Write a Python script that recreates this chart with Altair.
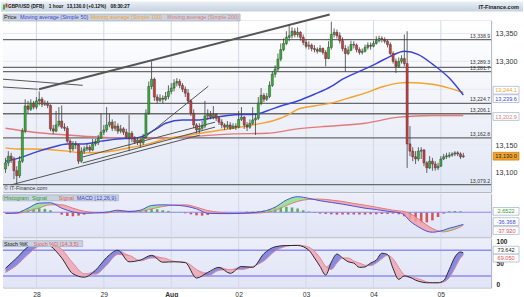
import altair as alt
import pandas as pd

FONT = "Liberation Sans"

# ---------------- price candles (1 hour), index 0 = first visible hour ----------------
first_open = 13107
close = [13118,13130,13125,13104,13095,13121,13175,13220,13214,13225,
         13218,13229,13232,13223,13225,13221,13179,13175,13186,13193,
         13182,13180,13157,13143,13152,13150,13121,13139,13143,13146,
         13141,13152,13154,13162,13173,13177,13186,13191,13180,13184,
         13175,13179,13173,13164,13171,13161,13155,13159,13154,13164,
         13207,13255,13268,13236,13230,13234,13232,13237,13246,13252,
         13261,13264,13257,13250,13243,13229,13207,13186,13177,13180,
         13184,13202,13205,13200,13205,13198,13191,13186,13182,13186,
         13180,13184,13182,13196,13200,13186,13182,13189,13195,13198,
         13225,13239,13232,13237,13257,13277,13286,13304,13321,13332,
         13343,13346,13354,13348,13352,13343,13334,13327,13329,13323,
         13321,13318,13323,13316,13305,13325,13348,13352,13346,13337,
         13323,13314,13320,13330,13329,13321,13316,13318,13325,13329,
         13327,13332,13337,13341,13339,13336,13330,13314,13300,13291,
         13300,13305,13296,13152,13139,13129,13125,13139,13141,13118,
         13109,13121,13116,13109,13112,13125,13129,13130,13132,13134,
         13136,13134,13129,13130]
high = [13127,13139,13136,13129,13112,13130,13180,13232,13229,13232,
        13229,13236,13246,13236,13230,13229,13223,13186,13211,13218,
        13221,13189,13184,13161,13157,13157,13152,13146,13148,13152,
        13150,13161,13161,13168,13207,13186,13218,13207,13196,13193,
        13189,13186,13182,13179,13204,13175,13166,13164,13162,13170,
        13214,13264,13300,13271,13241,13241,13239,13245,13257,13261,
        13268,13270,13268,13261,13255,13250,13232,13214,13189,13189,
        13193,13229,13214,13211,13220,13207,13202,13196,13189,13193,
        13191,13189,13189,13211,13218,13202,13191,13196,13218,13207,
        13236,13252,13243,13243,13264,13282,13293,13314,13332,13341,
        13354,13366,13361,13359,13361,13354,13348,13339,13336,13332,
        13329,13325,13329,13325,13320,13336,13371,13359,13357,13352,
        13343,13329,13327,13337,13336,13332,13325,13323,13330,13334,
        13334,13337,13345,13346,13345,13343,13339,13334,13318,13305,
        13307,13311,13348,13354,13184,13146,13139,13146,13146,13143,
        13121,13130,13127,13121,13118,13130,13134,13136,13137,13137,
        13139,13139,13137,13136]
low = [13100,13112,13118,13089,13080,13091,13118,13171,13207,13211,
       13214,13214,13221,13218,13220,13216,13175,13170,13173,13182,
       13179,13175,13154,13136,13139,13143,13116,13118,13134,13139,
       13137,13139,13148,13150,13161,13168,13173,13182,13175,13175,
       13170,13171,13168,13161,13139,13155,13152,13150,13146,13150,
       13161,13204,13250,13229,13225,13227,13225,13229,13232,13241,
       13246,13255,13252,13245,13236,13225,13202,13180,13171,13171,
       13177,13180,13196,13196,13196,13193,13186,13180,13177,13179,
       13177,13179,13177,13180,13193,13179,13175,13179,13186,13168,
       13195,13221,13227,13229,13234,13254,13271,13282,13300,13318,
       13329,13336,13341,13343,13343,13337,13329,13323,13321,13318,
       13316,13314,13316,13312,13291,13304,13321,13343,13341,13332,
       13318,13282,13311,13318,13323,13316,13312,13312,13316,13321,
       13321,13325,13330,13334,13334,13332,13325,13311,13296,13279,
       13289,13296,13291,13109,13130,13121,13116,13121,13125,13112,
       13100,13107,13104,13104,13105,13111,13123,13125,13127,13129,
       13130,13130,13125,13127]

# ---------------- moving averages ----------------
ma50_i = [0,5,10,16,22,28,34,40,45,49,54,57,63,69,75,81,89,93,98,104,110,116,120,126,132,137,142,147,152,158,163]
ma50_v = [13121,13127,13136,13145,13152,13152,13157,13161,13162,13166,13180,13189,13195,13195,13200,13204,
          13205,13211,13220,13229,13241,13255,13268,13282,13296,13309,13318,13312,13295,13270,13239.6]
ma100_i = [0,4,10,22,27,34,45,51,57,63,69,81,90,95,101,104,110,116,122,128,134,140,143,152,158,163]
ma100_v = [13145,13143,13143,13139,13136,13137,13146,13152,13161,13166,13171,13180,13188,13193,13205,13214,
           13220,13225,13234,13243,13254,13261,13262,13259,13252,13244.1]
ma200_i = [0,10,22,34,45,51,69,81,93,104,116,128,140,152,163]
ma200_v = [13180,13173,13168,13164,13162,13162,13166,13170,13171,13179,13184,13189,13200,13203,13202.9]

# ---------------- horizontal levels & trend lines ----------------
levels = [13338.9, 13289.3, 13281.7, 13224.7, 13206.1, 13162.8, 13079.2]
trend_i0 = [11.9, -0.9, -0.9, 2.0, 27.5, 27.5, 47.0]
trend_p0 = [13250, 13268, 13254, 13078.6, 13117.9, 13128.6, 13153.6]
trend_i1 = [115.4, 27.5, 11.5, 69.3, 74.6, 74.6, 72.2]
trend_p1 = [13384, 13257, 13250, 13167.9, 13182.1, 13191.0, 13255.4]

day_ticks = [11, 35, 59, 83, 107, 131, 155]
day_labels = ["28", "29", "Aug", "02", "03", "04", "05"]
price_ticks = [13100, 13150, 13300, 13350]
price_grid = [13100, 13150, 13200, 13250, 13300, 13350]

# ---------------- MACD (12,26,9) ----------------
macd_i = [0,4,8,12,16,20,24,28,32,36,40,44,48,52,56,60,64,68,72,76,80,84,88,92,96,100,104,108,112,116,
          120,124,128,132,136,138,140,142,144,146,148,150,152,154,156,158,160,162,163]
macd_line = [-3.5,-2,12,27,28,12,1,-3,-2,0,6,2,6,20,22,21,18,10,-3,-4,-4,-3,-1,3,15,36,46,41,34,29,
             24,18,12,8,3,1,-1,-8,-26,-38,-48,-56,-59,-57,-53,-47,-43,-38,-36.368]
macd_signal = [-1.5,-3,3,13,22,22,12,3,-1,-2,2,3,3,10,17,21,22,15,5,0,-3,-4,-3,-1,5,20,32,38,39,36,
               32,26,21,15,9,6,4,2,-4,-14,-26,-38,-48,-55,-58,-55,-50,-43,-37.92]
hist_i = list(range(0, 163, 2))
hist = [-1,-1,1,5,9,11,12,10,6,0, -7,-11,-12,-10,-7,-3,-1,1,2,3,
        4,3,1,1,4,8,10,9,6,4, 1,-1,-3,-6,-9,-10,-8,-5,-3,-2,
        -1,0,1,2,2,3,5,9,12,15, 16,14,11,6,2,-2,-4,-5,-6,-7,
        -7,-7,-7,-7,-7,-6,-6,-5,-5,-4, -6,-12,-22,-28,-31,-30,-24,-14,-4,3,
        4,3]
last_hist, last_macd, last_signal = 2.6522, -36.368, -37.920

# ---------------- Stochastic (14,3,5) ----------------
stoch_i = [0,4,8,12,16,20,24,28,32,36,40,44,48,52,56,60,64,68,72,76,80,84,88,92,96,100,104,108,
           110,112,114,116,118,120,122,124,126,128,130,132,134,136,138,140,142,144,146,148,150,152,
           154,156,158,160,162,163]
stoch_k = [38,62,88,99,90,62,25,17,33,63,80,53,57,68,52,53,51,15,28,40,26,42,40,72,88,91,91,80,
           62,42,22,52,71,62,53,50,40,41,50,57,73,70,37,12,20,17,10,6,4,4,
           4,9,35,64,76,73.642]
stoch_d = [28,45,70,90,95,82,50,25,24,45,70,68,55,62,62,54,52,35,20,33,35,35,42,55,78,89,92,87,
           78,62,42,35,50,62,62,55,50,45,44,50,60,68,60,40,22,16,15,11,6,4,
           4,6,16,38,62,69.05]

# =====================================================================
W = 490
PH, MH, SH = 172, 43, 49
GREEN, RED = "#2fb52f", "#d23a3a"
BLUE, ORANGE, PINK = "#3b44d8", "#f4a22c", "#e27a7a"
ONE = pd.DataFrame({"k": [0]})

xs = alt.Scale(domain=[-0.9, 172.9], nice=False, zero=False)
ps = alt.Scale(domain=[13066.1, 13373.2], nice=False, zero=False)
ms = alt.Scale(domain=[-72.1, 54.4], nice=False, zero=False)
ss = alt.Scale(domain=[-7, 107], nice=False, zero=False)

price_axis = alt.Axis(orient="right", values=price_ticks, format=",.0f", labelFontSize=7.2,
                      labelColor="#333", labelFont=FONT, ticks=False, domain=False, grid=False,
                      labelPadding=4, title=None)
stoch_axis = alt.Axis(orient="right", values=[0, 50, 100], format="d", labelFontSize=6.5,
                      labelFontWeight="bold", labelColor="#222", labelFont=FONT, ticks=False,
                      domain=False, grid=False, labelPadding=5, title=None)
expr = "".join(f"datum.value == {t} ? '{l}' : " for t, l in zip(day_ticks, day_labels)) + "''"
x_axis = alt.Axis(values=day_ticks, labelExpr=expr, labelFontSize=6.8, labelColor="#333",
                  labelFont=FONT, ticks=False, domain=False, grid=False, labelPadding=4, title=None,
                  labelFontWeight={"condition": {"test": "datum.value == 59", "value": "bold"},
                                   "value": "normal"})

def XX(field, panel):
    return alt.X(f"{field}:Q", scale=xs, axis=x_axis if panel == "s" else None)

def YY(field, panel):
    if panel == "p":
        return alt.Y(f"{field}:Q", scale=ps, axis=price_axis)
    if panel == "m":
        return alt.Y(f"{field}:Q", scale=ms, axis=None)
    return alt.Y(f"{field}:Q", scale=ss, axis=stoch_axis)

def text_at(x, y, txt, size=5.5, color="#222", weight="normal", align="left"):
    return alt.Chart(ONE).mark_text(text=txt, fontSize=size, color=color, fontWeight=weight,
                                    align=align, baseline="middle", font=FONT).encode(
        x=alt.value(x), y=alt.value(y))

def rect_at(x, x2, y, y2, fill, stroke=None):
    if stroke:
        m = alt.Chart(ONE).mark_rect(color=fill, stroke=stroke, strokeWidth=0.6)
    else:
        m = alt.Chart(ONE).mark_rect(color=fill)
    return m.encode(x=alt.value(x), x2=alt.value(x2), y=alt.value(y), y2=alt.value(y2))

def grad(c1, c2):
    return alt.Gradient(gradient="linear", x1=0, x2=0, y1=0, y2=1,
                        stops=[alt.GradientStop(color=c1, offset=0), alt.GradientStop(color=c2, offset=1)])

BOX = "M-1,-0.3L1,-0.3L1,0.3L-1,0.3Z"
def value_box(value, txt, panel, dy, tcolor, fill="#ffffff", stroke="#9fb0c8"):
    d = pd.DataFrame({"v": [value], "t": [txt]})
    b = alt.Chart(d).mark_point(shape=BOX, size=676, filled=True, fill=fill, stroke=stroke,
                                strokeWidth=0.7, opacity=1, yOffset=dy).encode(
        x=alt.value(505), y=YY("v", panel))
    t = alt.Chart(d).mark_text(fontSize=5.6, color=tcolor, yOffset=dy, align="center",
                               baseline="middle", font=FONT).encode(
        x=alt.value(505), y=YY("v", panel), text="t:N")
    return b + t

def vgrid(panel):
    return alt.Chart(pd.DataFrame({"t": day_ticks})).mark_rule(color="#d3d8e6", strokeWidth=1).encode(
        x=XX("t", panel))

# ---------------- price panel ----------------
n = len(close)
opens = [first_open] + close[:-1]
cd = pd.DataFrame({"i": list(range(n)), "o": opens, "h": high, "l": low, "c": close})
cd["up"] = cd["c"] >= cd["o"]
cd["blo"] = cd[["o", "c"]].min(axis=1)
cd["bhi"] = cd[["o", "c"]].max(axis=1)
cd["bhi"] = cd[["bhi"]].join((cd["blo"] + 1.6).rename("m")).max(axis=1)
cd["xl"] = cd["i"] - 0.38
cd["xr"] = cd["i"] + 0.38

bg_p = rect_at(0, W, 0, PH, grad("#ffffff", "#e2e7f5"))
hgrid = alt.Chart(pd.DataFrame({"v": price_grid})).mark_rule(color="#e6e9f1").encode(y=YY("v", "p"))
lev_df = pd.DataFrame({"v": levels, "t": [f"{v:,.1f}" for v in levels]})
lev_rules = alt.Chart(lev_df).mark_rule(color="#6a6a6a", strokeWidth=1.3).encode(y=YY("v", "p"))
# the two close levels get their labels spread a little so they do not collide
lev_text_main = alt.Chart(lev_df.drop(index=1)).mark_text(
    align="right", baseline="bottom", dy=-1, fontSize=5.2, color="#333", font=FONT).encode(
    x=alt.value(W - 1), y=YY("v", "p"), text="t:N")
lev_text_up = alt.Chart(lev_df.loc[[1]]).mark_text(
    align="right", baseline="bottom", dy=-2.6, fontSize=5.2, color="#333", font=FONT).encode(
    x=alt.value(W - 1), y=YY("v", "p"), text="t:N")

def ma_line(ii, vv, color, w=1.4):
    return alt.Chart(pd.DataFrame({"i": ii, "v": vv})).mark_line(
        color=color, strokeWidth=w, interpolate="monotone").encode(x=XX("i", "p"), y=YY("v", "p"))

trend = pd.DataFrame({"a": trend_i0, "pa": trend_p0, "b": trend_i1, "pb": trend_p1})
trend_thick = alt.Chart(trend.iloc[:1]).mark_rule(color="#555", strokeWidth=2).encode(
    x=XX("a", "p"), x2="b:Q", y=YY("pa", "p"), y2="pb:Q")
trend_thin = alt.Chart(trend.iloc[1:]).mark_rule(color="#555", strokeWidth=1).encode(
    x=XX("a", "p"), x2="b:Q", y=YY("pa", "p"), y2="pb:Q")

wicks = alt.Chart(cd).mark_rule(color="#3d3d3d", strokeWidth=0.8).encode(
    x=XX("i", "p"), y=YY("l", "p"), y2="h:Q")
bodies = alt.Chart(cd).mark_rect(stroke="#333", strokeWidth=0.45).encode(
    x=XX("xl", "p"), x2="xr:Q", y=YY("blo", "p"), y2="bhi:Q",
    color=alt.condition("datum.up", alt.value(GREEN), alt.value(RED)))

header = [
    rect_at(-2, 522, -19, -9, grad("#e9eff5", "#c4d1df")),
    alt.Chart(ONE).mark_rect(color=GREEN).encode(x=alt.value(0), x2=alt.value(2), y=alt.value(-16), y2=alt.value(-11)),
    alt.Chart(ONE).mark_rect(color=RED).encode(x=alt.value(2.5), x2=alt.value(4.5), y=alt.value(-17), y2=alt.value(-13)),
    text_at(5, -14, "GBP/USD (DFB)", 4.8, "#111", "bold"),
    text_at(46, -14, "1 hour", 4.8, "#111", "bold"),
    text_at(64, -14, "13,130.0 (+0.12%)", 4.8, "#111", "bold"),
    text_at(108, -14, "08:30:27", 4.8, "#111", "bold"),
    text_at(518, -14, "IT-Finance.com", 5.6, "#222", "bold", "right"),
    rect_at(0, 238, -6.5, 0.5, "#c9d2de", "#9aa8ba"),
    text_at(1, -3, "Price", 5.5, "#111"),
    text_at(17, -3, "Moving average (Simple 50)", 5.5, BLUE),
    text_at(88, -3, "Moving average (Simple 100)", 5.5, ORANGE),
    text_at(165, -3, "Moving average (Simple 200)", 5.5, PINK),
    text_at(1, 168, "© IT-Finance.com", 5.5, "#333"),
]

price = alt.layer(
    bg_p, hgrid, vgrid("p"), lev_rules, lev_text_main, lev_text_up,
    ma_line(ma200_i, ma200_v, PINK), ma_line(ma100_i, ma100_v, ORANGE), ma_line(ma50_i, ma50_v, BLUE, 1.5),
    trend_thin, trend_thick, wicks, bodies,
    value_box(ma100_v[-1], f"{ma100_v[-1]:,.1f}", "p", -2.3, ORANGE),
    value_box(ma50_v[-1], f"{ma50_v[-1]:,.1f}", "p", 3.6, BLUE),
    value_box(ma200_v[-1], f"{ma200_v[-1]:,.1f}", "p", 1.0, PINK),
    value_box(close[-1], f"{close[-1]:,.1f}", "p", 0, "#222", ORANGE, "#c07a10"),
    *header,
).properties(width=W, height=PH)

# ---------------- MACD panel ----------------
md = pd.DataFrame({"i": macd_i, "m": macd_line, "s": macd_signal})
md["top"] = md[["m", "s"]].max(axis=1)
hd = pd.DataFrame({"i": hist_i, "h": hist})
hd["xl"] = hd["i"] - 0.45
hd["xr"] = hd["i"] + 0.45
hd["z"] = 0.0

macd = alt.layer(
    rect_at(0, W, 0, MH, grad("#eceef9", "#e1e5f6")),
    vgrid("m"),
    alt.Chart(hd).mark_rect(opacity=0.85).encode(
        x=XX("xl", "m"), x2="xr:Q", y=YY("z", "m"), y2="h:Q",
        color=alt.condition("datum.h >= 0", alt.value("#3aa83a"), alt.value("#cf3a3a"))),
    alt.Chart(pd.DataFrame({"v": [0]})).mark_rule(color="#8a8cf0", strokeWidth=1.2).encode(y=YY("v", "m")),
    alt.Chart(md).mark_area(color="#7fe07f", opacity=0.75, interpolate="monotone").encode(
        x=XX("i", "m"), y=YY("top", "m"), y2="s:Q"),
    alt.Chart(md).mark_area(color="#f2a0a8", opacity=0.85, interpolate="monotone").encode(
        x=XX("i", "m"), y=YY("top", "m"), y2="m:Q"),
    alt.Chart(md).mark_line(color="#e07a7a", strokeWidth=1, interpolate="monotone").encode(
        x=XX("i", "m"), y=YY("s", "m")),
    alt.Chart(md).mark_line(color="#4a50e0", strokeWidth=1, interpolate="monotone").encode(
        x=XX("i", "m"), y=YY("m", "m")),
    rect_at(0, 116, 1, 7, "#c9d2de", "#9aa8ba"),
    text_at(1, 4, "Histogram", 5.5, "#2e9e2e"),
    text_at(29, 4, "Signal", 5.5, "#2e9e2e"),
    text_at(56, 4, "Signal", 5.5, "#e06060"),
    text_at(74, 4, "MACD (12,26,9)", 5.5, BLUE),
    value_box(last_hist, f"{last_hist:.4f}", "m", 0, "#2e9e2e"),
    value_box(last_macd, f"{last_macd:.3f}", "m", -3, BLUE),
    value_box(last_signal, f"{last_signal:.3f}", "m", 5.5, "#e05050"),
).properties(width=W, height=MH)

# ---------------- Stochastic panel ----------------
sd = pd.DataFrame({"i": stoch_i, "k": stoch_k, "d": stoch_d})
sd["top"] = sd[["k", "d"]].max(axis=1)

stoch = alt.layer(
    rect_at(0, W, 0, SH, grad("#eceef9", "#e1e5f6")),
    vgrid("s"),
    alt.Chart(pd.DataFrame({"v": [80, 20]})).mark_rule(color="#8c8ef0", strokeWidth=1.5).encode(y=YY("v", "s")),
    alt.Chart(sd).mark_area(color="#6f72e0", opacity=0.8, interpolate="monotone").encode(
        x=XX("i", "s"), y=YY("top", "s"), y2="d:Q"),
    alt.Chart(sd).mark_area(color="#f0a4b4", opacity=0.85, interpolate="monotone").encode(
        x=XX("i", "s"), y=YY("top", "s"), y2="k:Q"),
    alt.Chart(sd).mark_line(color="#e08a9a", strokeWidth=1, interpolate="monotone").encode(
        x=XX("i", "s"), y=YY("d", "s")),
    alt.Chart(sd).mark_line(color="#2a2a2a", strokeWidth=1, interpolate="monotone").encode(
        x=XX("i", "s"), y=YY("k", "s")),
    rect_at(0, 80, 2, 8, "#c9d2de", "#9aa8ba"),
    text_at(1, 5, "Stoch %K", 5.5, "#111"),
    text_at(31, 5, "Stoch %D (14,3,5)", 5.5, "#e06060"),
    value_box(stoch_k[-1], f"{stoch_k[-1]:.3f}", "s", -2.8, "#222"),
    value_box(stoch_d[-1], f"{stoch_d[-1]:.3f}", "s", 3.2, "#e05050"),
).properties(width=W, height=SH)

chart = alt.vconcat(price, macd, stoch, spacing=0).properties(
    padding={"left": 0, "top": 0, "right": 0, "bottom": 0}, background="#ffffff"
).configure_view(stroke="#a3abbd", strokeWidth=1).configure_concat(spacing=0)

chart.save("out.html", embed_options={"renderer": "svg", "actions": False})
